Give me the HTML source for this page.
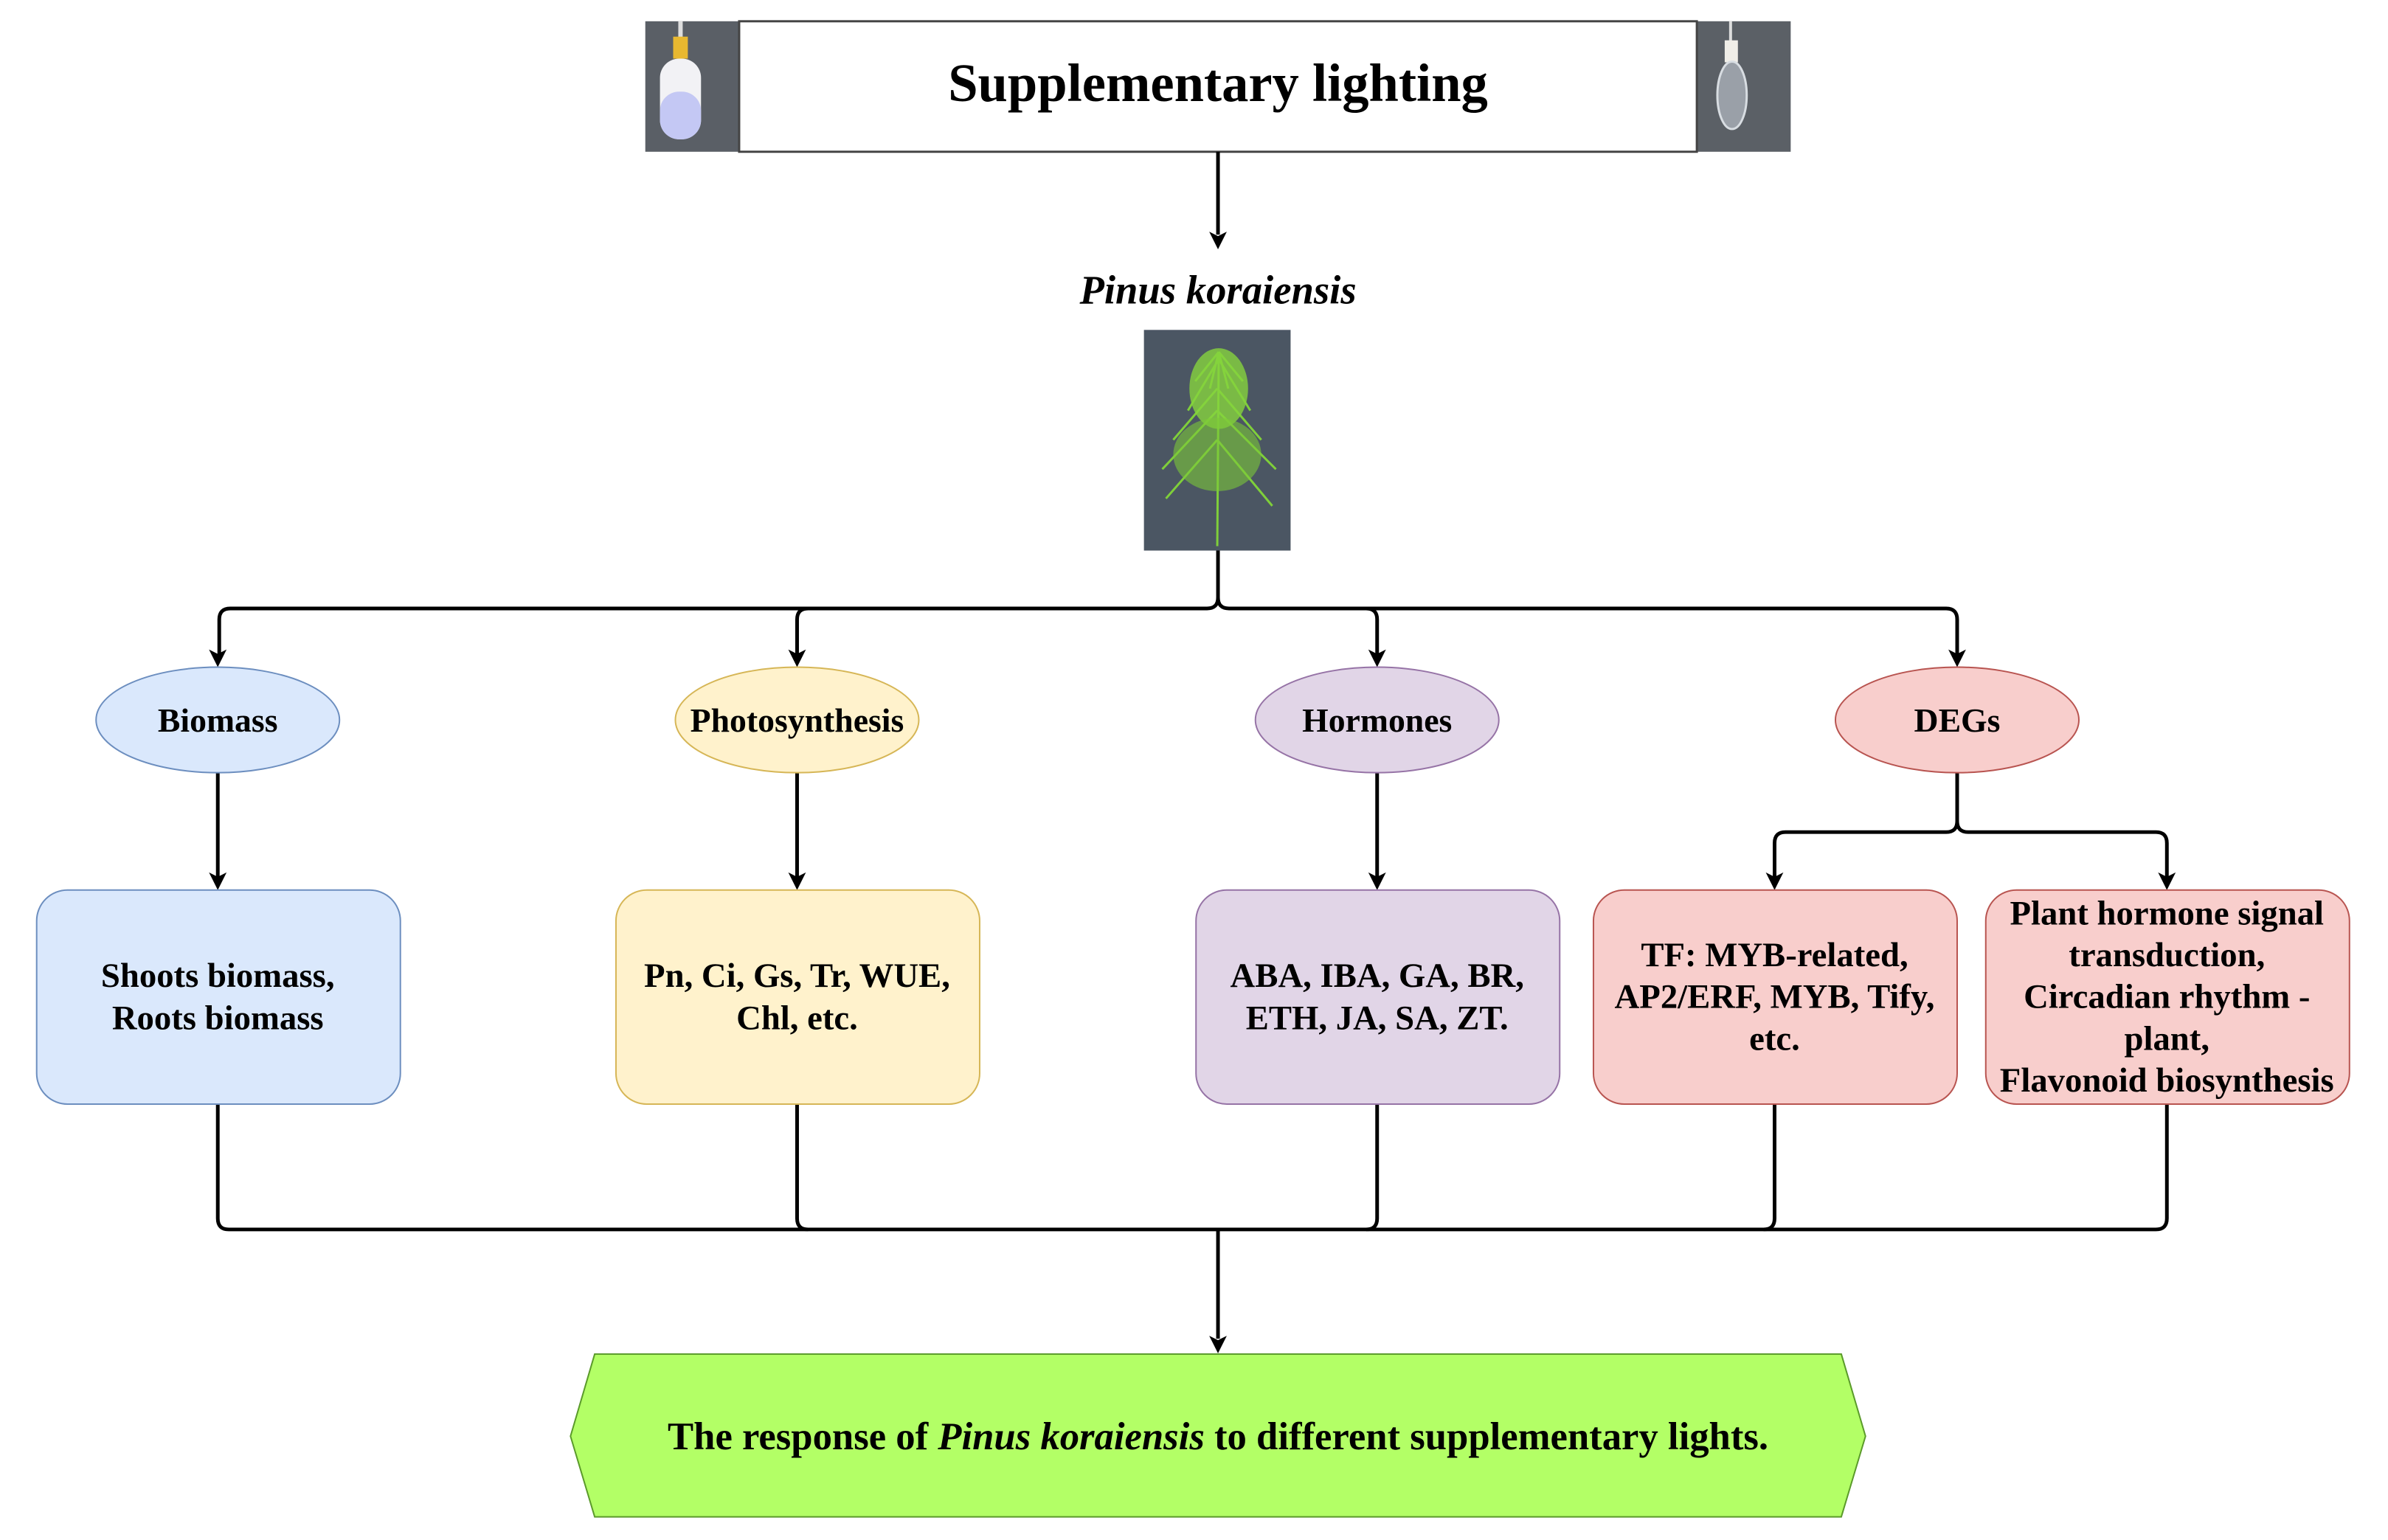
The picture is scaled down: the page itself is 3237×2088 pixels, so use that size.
<!DOCTYPE html>
<html><head><meta charset="utf-8"><style>
html,body{margin:0;padding:0;background:#fff;}
svg{display:block;}
text{font-family:"Liberation Serif",serif;font-weight:bold;fill:#000;}
</style></head><body>
<svg width="3237" height="2088" viewBox="0 0 3237 2088" xmlns="http://www.w3.org/2000/svg">
<g transform="scale(0.994)">
<!-- top photos -->
<rect x="880" y="29" width="128" height="178" fill="#5a5f66"/>
<rect x="925" y="29" width="6" height="30" fill="#ddd"/>
<rect x="918" y="50" width="20" height="30" fill="#e8b830"/>
<rect x="900" y="80" width="56" height="110" rx="26" fill="#f2f2f5"/>
<rect x="900" y="125" width="56" height="65" rx="26" fill="#c4c8f4"/>
<rect x="2314" y="29" width="128" height="178" fill="#5b6066"/>
<rect x="2358" y="29" width="4" height="30" fill="#ddd"/>
<rect x="2352" y="55" width="18" height="30" fill="#f0eee8"/>
<ellipse cx="2362" cy="130" rx="20" ry="46" fill="#9aa0a8" stroke="#d8dde2" stroke-width="3"/>
<!-- title box -->
<rect x="1008" y="29" width="1306" height="178" fill="#fff" stroke="#444" stroke-width="3"/>
<text x="1661" y="138" font-size="73" text-anchor="middle">Supplementary lighting</text>
<!-- arrows / lines -->
<g stroke="#000" stroke-width="5" fill="none">
<line x1="1661" y1="207" x2="1661" y2="320"/>
<path d="M1661 751 V815 Q1661 830 1646 830 H314 Q299 830 299 845 V892"/>
<path d="M1661 815 Q1661 830 1676 830 H2654 Q2669 830 2669 845 V892"/>
<path d="M1087 845 Q1087 830 1102 830 M1087 845 V892"/>
<path d="M1878 845 Q1878 830 1863 830 M1878 845 V892"/>
<line x1="297" y1="1054" x2="297" y2="1197"/>
<line x1="1087" y1="1054" x2="1087" y2="1197"/>
<line x1="1878" y1="1054" x2="1878" y2="1197"/>
<path d="M2669 1054 V1120 Q2669 1135 2654 1135 H2435 Q2420 1135 2420 1150 V1197"/>
<path d="M2669 1120 Q2669 1135 2684 1135 H2940 Q2955 1135 2955 1150 V1197"/>
<path d="M297 1506 V1662 Q297 1677 312 1677 H2940 Q2955 1677 2955 1662 V1506"/>
<path d="M1087 1506 V1662 Q1087 1677 1102 1677"/>
<path d="M1878 1506 V1662 Q1878 1677 1863 1677"/>
<path d="M2420 1506 V1662 Q2420 1677 2405 1677"/>
<path d="M1661 1677 V1826"/>
</g>
<g fill="#000">
<path d="M1649 316 L1661 340 L1673 316 L1661 322Z"/>
<path d="M285 886 L297 910 L309 886 L297 892Z"/>
<path d="M1075 886 L1087 910 L1099 886 L1087 892Z"/>
<path d="M1866 886 L1878 910 L1890 886 L1878 892Z"/>
<path d="M2657 886 L2669 910 L2681 886 L2669 892Z"/>
<path d="M285 1190 L297 1214 L309 1190 L297 1196Z"/>
<path d="M1075 1190 L1087 1214 L1099 1190 L1087 1196Z"/>
<path d="M1866 1190 L1878 1214 L1890 1190 L1878 1196Z"/>
<path d="M2408 1190 L2420 1214 L2432 1190 L2420 1196Z"/>
<path d="M2943 1190 L2955 1214 L2967 1190 L2955 1196Z"/>
<path d="M1649 1822 L1661 1846 L1673 1822 L1661 1828Z"/>
</g>
<text x="1661" y="414" font-size="55" font-style="italic" text-anchor="middle">Pinus koraiensis</text>
<!-- plant photo -->
<rect x="1560" y="450" width="200" height="301" fill="#4b5663"/>
<g stroke="#7fcf3a" stroke-width="3" fill="none">
<path d="M1660 745 L1662 480"/>
<path d="M1662 480 L1630 520 M1662 480 L1695 520 M1662 490 L1620 560 M1662 490 L1705 560 M1660 560 L1585 640 M1660 560 L1740 640 M1660 600 L1590 680 M1660 600 L1735 690 M1660 530 L1600 600 M1660 530 L1720 600 M1662 480 L1650 530 M1662 480 L1675 530"/>
</g>
<ellipse cx="1662" cy="530" rx="40" ry="55" fill="#86d33d" opacity="0.8"/>
<ellipse cx="1660" cy="620" rx="60" ry="50" fill="#7cc838" opacity="0.6"/>
<!-- ellipses -->
<ellipse cx="297" cy="982" rx="166" ry="72" fill="#dae8fc" stroke="#6c8ebf" stroke-width="2"/>
<ellipse cx="1087" cy="982" rx="166" ry="72" fill="#fff2cc" stroke="#d6b656" stroke-width="2"/>
<ellipse cx="1878" cy="982" rx="166" ry="72" fill="#e1d5e7" stroke="#9673a6" stroke-width="2"/>
<ellipse cx="2669" cy="982" rx="166" ry="72" fill="#f8cecc" stroke="#b85450" stroke-width="2"/>
<g font-size="46" text-anchor="middle">
<text x="297" y="998">Biomass</text>
<text x="1087" y="998">Photosynthesis</text>
<text x="1878" y="998">Hormones</text>
<text x="2669" y="998">DEGs</text>
</g>
<!-- boxes -->
<rect x="50" y="1214" width="496" height="292" rx="42" fill="#dae8fc" stroke="#6c8ebf" stroke-width="2"/>
<rect x="840" y="1214" width="496" height="292" rx="42" fill="#fff2cc" stroke="#d6b656" stroke-width="2"/>
<rect x="1631" y="1214" width="496" height="292" rx="42" fill="#e1d5e7" stroke="#9673a6" stroke-width="2"/>
<rect x="2173" y="1214" width="496" height="292" rx="42" fill="#f8cecc" stroke="#b85450" stroke-width="2"/>
<rect x="2708" y="1214" width="496" height="292" rx="42" fill="#f8cecc" stroke="#b85450" stroke-width="2"/>
<g font-size="47" text-anchor="middle">
<text x="297" y="1346">Shoots biomass,</text>
<text x="297" y="1404">Roots biomass</text>
<text x="1087" y="1346">Pn, Ci, Gs, Tr, WUE,</text>
<text x="1087" y="1404">Chl, etc.</text>
<text x="1878" y="1346">ABA, IBA, GA, BR,</text>
<text x="1878" y="1404">ETH, JA, SA, ZT.</text>
<text x="2420" y="1318">TF: MYB-related,</text>
<text x="2420" y="1375">AP2/ERF, MYB, Tify,</text>
<text x="2420" y="1432">etc.</text>
<text x="2955" y="1261">Plant hormone signal</text>
<text x="2955" y="1318">transduction,</text>
<text x="2955" y="1375">Circadian rhythm -</text>
<text x="2955" y="1432">plant,</text>
<text x="2955" y="1489">Flavonoid biosynthesis</text>
</g>
<!-- green hexagon -->
<polygon points="811,1847 2511,1847 2544,1959 2511,2069 811,2069 778,1959" fill="#b3ff66" stroke="#5a9a2a" stroke-width="2"/>
<text x="1661" y="1977" font-size="53" text-anchor="middle">The response of <tspan font-style="italic">Pinus koraiensis</tspan> to different supplementary lights.</text>
</g>
</svg>
</body></html>
